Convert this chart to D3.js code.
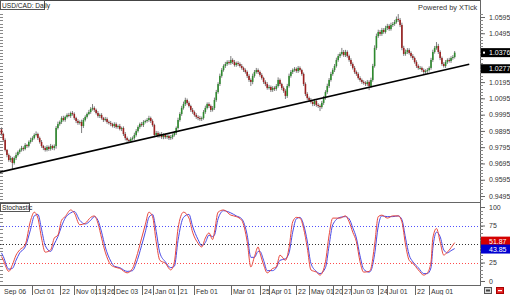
<!DOCTYPE html>
<html><head><meta charset="utf-8">
<script src="https://cdn.jsdelivr.net/npm/d3@7"></script>
<style>body{margin:0;background:#fff;overflow:hidden}svg{display:block;font-family:"Liberation Sans",Arial,sans-serif}</style>
</head><body><svg id="c" width="510" height="295"></svg>
<script>
// ---------------- data ----------------
const firstOpen = 0.9905;
const closes = [
0.9876,0.9839,0.9778,0.9747,0.9716,0.9728,0.9698,0.9728,0.9747,0.9765,
0.9778,0.9790,0.9784,0.9808,0.9802,0.9827,0.9839,0.9851,0.9870,0.9876,
0.9851,0.9827,0.9802,0.9790,0.9778,0.9796,0.9784,0.9802,0.9790,0.9802,
0.9913,0.9937,0.9950,0.9974,0.9962,0.9981,0.9993,0.9987,1.0005,0.9999,
0.9974,0.9956,0.9944,0.9950,0.9925,0.9962,0.9981,0.9999,1.0011,1.0030,
1.0036,1.0024,1.0005,0.9987,0.9993,0.9974,0.9962,0.9968,0.9950,0.9944,
0.9937,0.9925,0.9937,0.9919,0.9925,0.9907,0.9913,0.9876,0.9851,0.9839,
0.9833,0.9845,0.9851,0.9870,0.9894,0.9919,0.9937,0.9931,0.9950,0.9956,
0.9962,0.9974,0.9956,0.9931,0.9870,0.9882,0.9864,0.9876,0.9857,0.9870,
0.9857,0.9864,0.9851,0.9857,0.9870,0.9882,0.9913,0.9962,0.9999,1.0036,
1.0060,1.0085,1.0067,1.0048,1.0024,1.0011,0.9993,0.9981,0.9974,0.9968,
0.9974,1.0011,1.0036,1.0060,1.0048,1.0024,1.0036,1.0085,1.0134,1.0183,
1.0233,1.0269,1.0294,1.0306,1.0318,1.0312,1.0331,1.0318,1.0300,1.0312,
1.0306,1.0294,1.0282,1.0269,1.0257,1.0233,1.0208,1.0196,1.0233,1.0257,
1.0269,1.0257,1.0239,1.0220,1.0196,1.0183,1.0159,1.0165,1.0146,1.0159,
1.0153,1.0171,1.0208,1.0183,1.0159,1.0140,1.0110,1.0171,1.0233,1.0257,
1.0269,1.0276,1.0263,1.0282,1.0269,1.0245,1.0183,1.0122,1.0097,1.0085,
1.0073,1.0060,1.0079,1.0054,1.0048,1.0042,1.0067,1.0097,1.0134,1.0171,
1.0208,1.0245,1.0269,1.0294,1.0331,1.0355,1.0368,1.0380,1.0361,1.0380,
1.0355,1.0331,1.0306,1.0282,1.0257,1.0245,1.0220,1.0208,1.0196,1.0189,
1.0183,1.0196,1.0171,1.0208,1.0294,1.0405,1.0478,1.0503,1.0491,1.0515,
1.0503,1.0527,1.0540,1.0521,1.0546,1.0552,1.0564,1.0583,1.0577,1.0546,
1.0405,1.0368,1.0380,1.0392,1.0374,1.0355,1.0343,1.0318,1.0294,1.0282,
1.0282,1.0269,1.0257,1.0263,1.0269,1.0282,1.0331,1.0380,1.0405,1.0417,
1.0380,1.0343,1.0306,1.0294,1.0318,1.0331,1.0325,1.0343,1.0349,1.0376];
// wick lengths in pips (0.0001)
const upperWick = [
12,8,10,6,9,14,7,11,15,9,8,13,10,12,7,9,14,11,10,16,8,9,12,7,10,
11,9,13,8,10,12,15,9,11,14,8,10,13,9,12,10,8,11,9,14,12,10,9,13,11,
24,10,8,12,9,11,7,13,10,9,12,8,11,10,9,13,8,10,12,9,8,11,10,14,12,
10,9,13,11,8,12,14,9,10,8,13,11,9,12,10,8,11,9,13,10,12,9,14,11,13,
15,14,9,10,8,12,9,11,10,13,9,12,14,10,11,9,12,15,13,11,14,12,10,13,11,
12,24,10,13,9,11,10,12,8,10,9,11,10,14,12,13,10,9,11,8,10,12,13,9,11,
10,12,16,9,8,10,11,13,14,12,10,11,9,12,10,8,9,10,11,9,12,10,13,9,11,
10,12,13,11,14,12,13,11,12,14,13,11,25,12,13,10,9,11,10,12,9,10,11,9,10,
11,12,10,14,13,16,15,14,12,13,12,14,13,11,14,12,13,15,30,12,14,13,15,12,11,
10,12,9,11,10,12,9,10,11,12,10,13,14,12,24,13,10,9,11,12,10,13,11,12,10];
const lowerWick = [
10,12,9,14,11,13,37,10,12,9,11,10,13,8,12,9,10,11,8,9,12,10,11,13,10,
9,12,10,11,14,16,9,10,12,9,11,10,8,12,10,11,13,12,10,43,12,9,10,8,11,
10,12,9,11,13,10,12,9,11,10,13,9,12,10,11,9,13,12,14,11,12,10,9,11,10,
9,11,10,12,9,10,11,12,10,14,12,11,10,12,13,11,10,12,11,13,10,12,9,10,11,
10,12,11,9,12,11,10,12,13,11,12,10,11,9,12,13,10,12,11,10,12,11,10,12,11,
10,11,12,10,11,12,10,11,12,10,13,12,25,14,11,10,12,11,10,12,13,11,10,12,11,
12,11,10,12,13,11,19,12,10,11,12,10,11,12,10,11,12,13,11,12,10,13,12,11,12,
25,11,12,10,11,12,10,11,12,10,11,12,10,11,12,10,11,12,10,11,12,10,11,12,10,
12,11,25,12,11,10,12,11,13,12,11,10,12,11,10,12,11,10,12,13,14,12,11,12,10,
11,12,10,12,11,10,12,13,11,12,10,11,12,10,11,12,13,11,10,12,11,10,12,11,9];
const priceTicks = [1.0595,1.0495,1.0395,1.0295,1.0195,1.0095,0.9995,0.9895,0.9795,0.9695,0.9595,0.9495];
const lastPrice = 1.0376;
const trendValue = 1.0277;
const trendBars = [-1, 257];
const trendPrices = [0.9641, 1.0305];
const stochIdx = [0,1,4,6,8,10,13,16,18,20,22,24,27,29,31,33,35,38,40,43,46,49,51,53,55,57,60,62,65,69,72,74,77,79,81,83,85,87,90,93,95,97,100,103,105,108,110,112,114,116,117,119,122,126,129,132,135,137,139,141,142,144,146,149,151,153,156,158,160,162,164,166,168,170,173,175,178,180,182,186,189,191,193,195,197,199,202,203,205,207,209,212,215,218,220,222,224,226,229,232,234,236,237,239,241,243,245,247,249];
const stochK = [33,28,13,22,35,42,49,82,93,85,58,39,42,58,62,82,87,96,92,76,78,86,88,78,58,39,22,19,17,11,17,31,58,76,93,87,53,28,24,15,26,71,93,85,66,51,46,58,65,56,66,93,96,89,87,82,53,19,33,46,38,22,11,17,19,35,28,45,80,86,85,71,45,15,12,8,26,62,85,85,88,80,66,53,26,12,13,17,49,87,89,85,88,88,80,49,28,24,15,8,11,26,58,71,53,35,39,45,51.87];
const stochD = [38,33,16,17,28,38,46,70,88,90,70,48,40,50,60,74,85,92,94,82,77,82,87,82,66,46,27,20,18,13,14,24,48,66,86,90,67,38,26,18,20,55,86,90,74,56,48,52,62,60,62,84,95,92,88,84,62,32,32,40,40,28,14,14,18,28,30,38,66,84,86,76,54,24,13,10,18,48,76,86,87,84,72,58,34,16,12,14,36,74,88,87,87,88,83,58,35,26,18,10,10,18,44,66,60,42,38,41,43.85];
const stochTicks = [100,75,50,25,0];
const stochLevels = [75,50,25];
const levelColors = ["#5050ff","#333333","#ff4b4b"];
const dateLabels = ["2012-09-06","2012-10-01","2012-10-22","2012-11-01","2012-11-19","2012-11-26","2012-12-03","2012-12-24","2013-01-01","2013-01-21","2013-02-01","2013-03-01","2013-03-25","2013-04-01","2013-04-22","2013-05-01","2013-05-20","2013-05-27","2013-06-03","2013-06-24","2013-07-01","2013-07-22","2013-08-01"];
const dateTexts = ["Sep 06","Oct 01","22","Nov 01","19","26","Dec 03","24","Jan 01","21","Feb 01","Mar 01","25","Apr 01","22","May 01","20","27","Jun 03","24","Jul 01","22","Aug 01"];

// ---------------- build ----------------
const fmt = d3.timeFormat("%Y-%m-%d");
const dates = [];
for (let d = new Date(2012, 8, 6); dates.length < closes.length; d.setDate(d.getDate() + 1)) {
  const wd = d.getDay(); if (wd !== 0 && wd !== 6) dates.push(fmt(d));
}
const bars = closes.map((c, i) => {
  const o = i === 0 ? firstOpen : closes[i - 1];
  return {i, o, c, h: Math.max(o, c) + upperWick[i] * 1e-4, l: Math.min(o, c) - lowerWick[i] * 1e-4};
});
const lastK = stochK[stochK.length - 1], lastD = stochD[stochD.length - 1];

const W = 510, H = 295, AX = 480;
const svg = d3.select("#c");
const x = d3.scaleLinear().domain([0, closes.length - 1]).range([1.5, 1.5 + 1.82 * (closes.length - 1)]);
const yP = d3.scaleLinear().domain([0.9495, 1.0595]).range([196, 17]);
const yS = d3.scaleLinear().domain([0, 100]).range([281, 207]);

const defs = svg.append("defs");
defs.append("clipPath").attr("id", "cm").append("rect").attr("x", 0).attr("y", 1).attr("width", AX).attr("height", 201);
defs.append("clipPath").attr("id", "cs").append("rect").attr("x", 0).attr("y", 203).attr("width", AX).attr("height", 82);

// frame lines
svg.append("line").attr("x1", 0).attr("x2", AX).attr("y1", 0.5).attr("y2", 0.5).attr("stroke", "#444");
svg.append("line").attr("x1", 0).attr("x2", AX).attr("y1", 202.5).attr("y2", 202.5).attr("stroke", "#666");
svg.append("line").attr("x1", 0).attr("x2", AX).attr("y1", 285.5).attr("y2", 285.5).attr("stroke", "#666");
svg.append("line").attr("x1", AX + 0.5).attr("x2", AX + 0.5).attr("y1", 0).attr("y2", 286).attr("stroke", "#666");

// minor ticks (left and right edges)
const minorP = d3.range(0.9475, 1.0616, 0.002);
const minorS = d3.range(0, 101, 5);
const tk = svg.append("g").attr("stroke", "#888").attr("stroke-width", 1);
minorP.forEach(p => { const yy = Math.round(yP(p)) + 0.5; if (yy > 3 && yy < 201) {
  tk.append("line").attr("x1", 0).attr("x2", 3).attr("y1", yy).attr("y2", yy);
  tk.append("line").attr("x1", AX).attr("x2", AX + 3).attr("y1", yy).attr("y2", yy);
}});
minorS.forEach(v => { const yy = Math.round(yS(v)) + 0.5;
  tk.append("line").attr("x1", 0).attr("x2", 3).attr("y1", yy).attr("y2", yy);
  tk.append("line").attr("x1", AX).attr("x2", AX + 3).attr("y1", yy).attr("y2", yy);
});

// right price axis (labels hidden under the value boxes are not drawn, as in the reference)
const hiddenP = [1.0395, 1.0295];
const axP = svg.append("g").attr("transform", `translate(${AX},0)`)
  .call(d3.axisRight(yP).tickValues(priceTicks).tickSize(5).tickPadding(4)
    .tickFormat(v => hiddenP.includes(v) ? "" : d3.format(".4f")(v)));
axP.select(".domain").remove();
axP.selectAll("line").attr("stroke", "#666");
axP.selectAll("text").attr("font-size", 7).attr("fill", "#333").attr("font-family", "Liberation Sans, Arial");

const axS = svg.append("g").attr("transform", `translate(${AX},0)`)
  .call(d3.axisRight(yS).tickValues(stochTicks).tickSize(5).tickPadding(4)
    .tickFormat(v => v === 50 ? "" : d3.format("d")(v)));
axS.select(".domain").remove();
axS.selectAll("line").attr("stroke", "#666");
axS.selectAll("text").attr("font-size", 7).attr("fill", "#333").attr("font-family", "Liberation Sans, Arial");

// candles
const gm = svg.append("g").attr("clip-path", "url(#cm)");
gm.selectAll("line.w").data(bars).join("line").attr("class", "w")
  .attr("x1", d => x(d.i)).attr("x2", d => x(d.i))
  .attr("y1", d => yP(d.h)).attr("y2", d => yP(d.l))
  .attr("stroke", "#7d7d7d").attr("stroke-width", 1);
gm.selectAll("rect.b").data(bars).join("rect").attr("class", "b")
  .attr("x", d => x(d.i) - 0.8).attr("width", 1.6)
  .attr("y", d => yP(Math.max(d.o, d.c)))
  .attr("height", d => Math.max(1, Math.abs(yP(d.o) - yP(d.c))))
  .attr("fill", d => d.c >= d.o ? "#2e8a2e" : "#9a2020");

// trend line
gm.append("line")
  .attr("x1", x(trendBars[0])).attr("y1", yP(trendPrices[0]))
  .attr("x2", x(trendBars[1])).attr("y2", yP(trendPrices[1]))
  .attr("stroke", "#000").attr("stroke-width", 1.6);

// stochastic
const gs = svg.append("g").attr("clip-path", "url(#cs)");
stochLevels.forEach((v, k) => gs.append("line").attr("x1", 0).attr("x2", AX)
  .attr("y1", Math.round(yS(v)) + 0.5).attr("y2", Math.round(yS(v)) + 0.5)
  .attr("stroke", levelColors[k]).attr("stroke-dasharray", "1,2"));
const lineS = d3.line().x((d, j) => x(stochIdx[j])).y(d => yS(d)).curve(d3.curveMonotoneX);
gs.append("path").attr("d", lineS(stochD)).attr("fill", "none").attr("stroke", "#4a4ae6").attr("stroke-width", 1);
gs.append("path").attr("d", lineS(stochK)).attr("fill", "none").attr("stroke", "#e8483f").attr("stroke-width", 1);

// value boxes on right axis
function box(yy, bg, label, marker) {
  const g = svg.append("g");
  g.append("rect").attr("x", AX + 1).attr("y", yy - 4.5).attr("width", W - AX - 1).attr("height", 9).attr("fill", bg);
  if (marker) g.append("rect").attr("x", AX + 3).attr("y", yy - 1).attr("width", 2).attr("height", 2).attr("fill", "#fff");
  g.append("text").attr("x", AX + 9).attr("y", yy + 2.5).attr("font-size", 7).attr("fill", "#fff").text(label);
}
box(yP(lastPrice), "#000", d3.format(".4f")(lastPrice), true);
box(yP(trendValue), "#000", d3.format(".4f")(trendValue), false);
box(yS(lastK) - 1.5, "#d40000", d3.format(".2f")(lastK), false);
box(yS(lastD) + 0.5, "#0000d0", d3.format(".2f")(lastD), false);

// date axis
const gx = svg.append("g");
dateLabels.forEach((ds, k) => {
  const idx = dates.indexOf(ds); if (idx < 0) return;
  const xx = Math.round(x(idx)) + 0.5;
  if (k > 0) gx.append("line").attr("x1", xx).attr("x2", xx).attr("y1", 286).attr("y2", 295).attr("stroke", "#666");
  gx.append("text").attr("x", xx + 1.5).attr("y", 293.5).attr("font-size", 7).attr("fill", "#333").text(dateTexts[k]);
});

// titles
svg.append("rect").attr("x", 0.5).attr("y", 0.5).attr("width", 44).attr("height", 9).attr("fill", "#fff").attr("stroke", "#555");
svg.append("text").attr("x", 2).attr("y", 7.5).attr("font-size", 6.6).attr("fill", "#222").text("USD/CAD: Daily");
svg.append("rect").attr("x", 0.5).attr("y", 203.5).attr("width", 29).attr("height", 8).attr("fill", "#fff").attr("stroke", "#555");
svg.append("text").attr("x", 2).attr("y", 210).attr("font-size", 6.6).attr("fill", "#222").text("Stochastic");
svg.append("text").attr("x", 418).attr("y", 9.5).attr("font-size", 7.4).attr("fill", "#333").text("Powered by XTick");

// bottom-right icons
svg.append("rect").attr("x", 484.5).attr("y", 287.5).attr("width", 7).attr("height", 6).attr("fill", "#ddd").attr("stroke", "#555");
svg.append("rect").attr("x", 486).attr("y", 289.5).attr("width", 4).attr("height", 2).attr("fill", "#444");
svg.append("rect").attr("x", 496.5).attr("y", 287.5).attr("width", 7).attr("height", 6).attr("fill", "#e02020").attr("stroke", "#a00");
svg.append("rect").attr("x", 498).attr("y", 290).attr("width", 4).attr("height", 1.2).attr("fill", "#fff");
</script></body></html>
